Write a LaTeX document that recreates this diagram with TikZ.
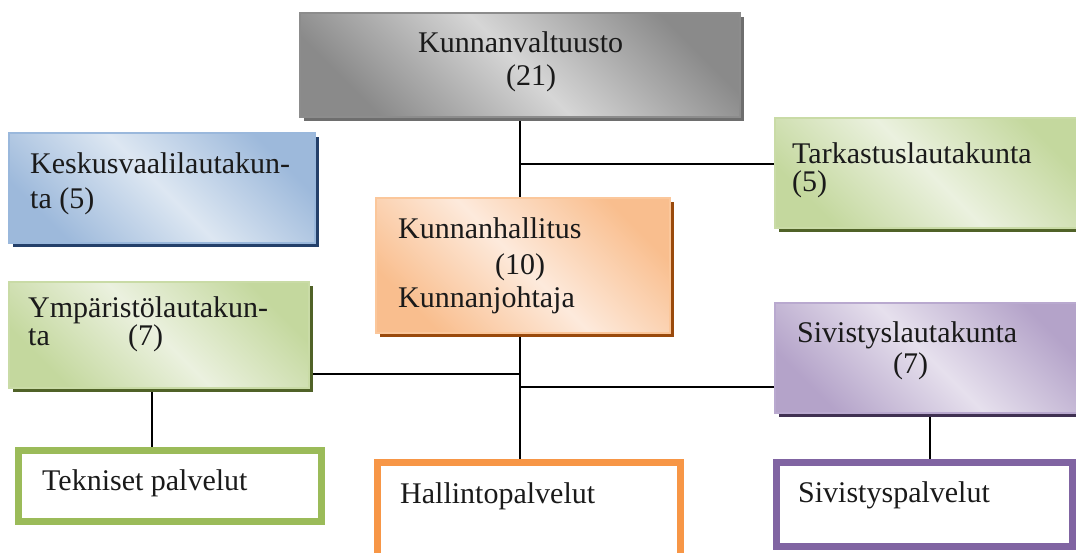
\documentclass[tikz,border=0pt]{standalone}
\usepackage{fontspec}
\setmainfont{Liberation Serif}
\usetikzlibrary{shadows}
\pgfdeclarelayer{bg}
\pgfsetlayers{bg,main}

% palette
\definecolor{grayD}{HTML}{8A8A8A}\definecolor{grayL}{HTML}{D6D6D6}
\definecolor{grayB}{HTML}{8C8C8C}\definecolor{grayS}{HTML}{6E6E6E}
\definecolor{blueD}{HTML}{9DB9DB}\definecolor{blueL}{HTML}{DDE7F2}
\definecolor{blueB}{HTML}{9AB8DC}\definecolor{blueS}{HTML}{24406A}
\definecolor{orgD}{HTML}{F9BE8E}\definecolor{orgL}{HTML}{FDEADC}
\definecolor{orgB}{HTML}{FBC79B}\definecolor{orgS}{HTML}{9A4A0C}
\definecolor{grnD}{HTML}{C4D89E}\definecolor{grnL}{HTML}{EBF1DF}
\definecolor{grnB}{HTML}{C9DBA6}\definecolor{grnS}{HTML}{506228}
\definecolor{purD}{HTML}{B4A3C9}\definecolor{purL}{HTML}{E6E0ED}
\definecolor{purB}{HTML}{B9A9CF}\definecolor{purS}{HTML}{403152}
\definecolor{frameG}{HTML}{9BBB59}
\definecolor{frameO}{HTML}{F79646}
\definecolor{frameP}{HTML}{8064A2}
\definecolor{ink}{HTML}{1A1A1A}

\tikzset{
  panel/.style n args={4}{rectangle, anchor=north west, inner sep=0pt, outer sep=0pt,
    draw=#3, line width=2pt,
    top color=#1, bottom color=#1, middle color=#2, shading angle=-45,
    drop shadow={shadow xshift=4pt, shadow yshift=-4pt, fill=#4, opacity=1}},
  unitbox/.style={rectangle, anchor=north west, inner sep=0pt, outer sep=0pt,
    draw=#1, line width=7pt, fill=white},
  label/.style={anchor=base west, inner sep=0pt, text=ink,
    font=\fontsize{30}{36}\selectfont},
  link/.style={draw=black, line width=1.3pt}
}

\begin{document}
\begin{tikzpicture}[x=1pt, y=-1pt]
\useasboundingbox (0,0) rectangle (1076,552);

% upper tier
\node[panel={grayD}{grayL}{grayB}{grayS}, minimum width=440pt, minimum height=104pt] (V) at (300,13) {};
\node[panel={blueD}{blueL}{blueB}{blueS}, minimum width=306pt, minimum height=110pt] (K) at (9,133) {};
\node[panel={grnD}{grnL}{grnB}{grnS}, minimum width=310pt, minimum height=110pt] (T) at (775,118) {};
\node[panel={orgD}{orgL}{orgB}{orgS}, minimum width=294pt, minimum height=135pt] (H) at (376,198) {};
\node[panel={grnD}{grnL}{grnB}{grnS}, minimum width=300pt, minimum height=106pt] (Y) at (9,282) {};
\node[panel={purD}{purL}{purB}{purS}, minimum width=310pt, minimum height=110pt] (S) at (775,303) {};

% service units
\node[unitbox=frameG, minimum width=303pt, minimum height=71pt] (Tp) at (18.5,450.5) {};
\node[unitbox=frameO, minimum width=303pt, minimum height=110pt] (Hp) at (377.5,462.5) {};
\node[unitbox=frameP, minimum width=296pt, minimum height=84pt] (Sp) at (776.5,462.5) {};

% texts
\node[label] (v1) at (418,52) {Kunnanvaltuusto};
\node[label] (v2) at (506,85) {(21)};
\node[label] (k1) at (30,173) {Keskusvaalilautakun-};
\node[label] (k2) at (30,208) {ta (5)};
\node[label] (t1) at (792,163) {Tarkastuslautakunta};
\node[label] (t2) at (792,191) {(5)};
\node[label] (h1) at (398,238) {Kunnanhallitus};
\node[label] (h2) at (495,274) {(10)};
\node[label] (h3) at (398,307) {Kunnanjohtaja};
\node[label] (y1) at (28,317) {Ympäristölautakun-};
\node[label] (y2) at (28,345) {ta};
\node[label] (y3) at (128,345) {(7)};
\node[label] (s1) at (797,342) {Sivistyslautakunta};
\node[label] (s2) at (893,373) {(7)};
\node[label] (tp1) at (42,490) {Tekniset palvelut};
\node[label] (hp1) at (400,503) {Hallintopalvelut};
\node[label] (sp1) at (798,502) {Sivistyspalvelut};

% connectors, behind the boxes
\begin{pgfonlayer}{bg}
  \coordinate (ja) at (V.south |- 0,164);
  \coordinate (jb) at (V.south |- 0,374);
  \coordinate (jc) at (V.south |- 0,387);
  \coordinate (jd) at (152,390);
  \coordinate (je) at (930,416);
  \draw[link] (V.south) -- (V.south |- H.north);
  \draw[link] (ja) -- (ja -| T.west);
  \draw[link] (V.south |- H.south) -- (V.south |- Hp.north);
  \draw[link] (Y.east |- jb) -- (jb);
  \draw[link] (jc) -- (jc -| S.west);
  \draw[link] (jd) -- (jd |- Tp.north);
  \draw[link] (je) -- (je |- Sp.north);
\end{pgfonlayer}
\end{tikzpicture}
\end{document}
